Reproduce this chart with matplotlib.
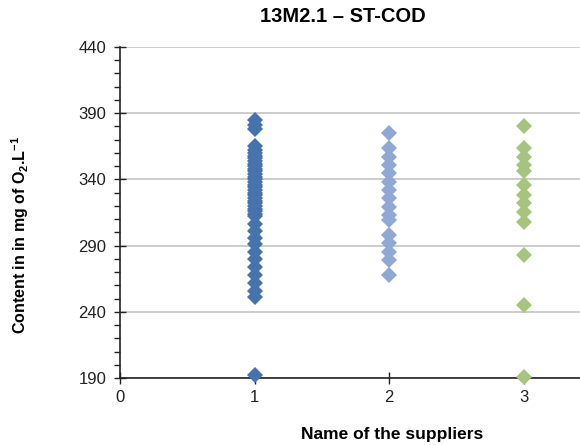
import matplotlib
matplotlib.use("Agg")
import matplotlib.pyplot as plt

plt.rcParams["font.family"] = ["Liberation Sans", "DejaVu Sans"]
plt.rcParams["mathtext.fontset"] = "custom"
plt.rcParams["mathtext.rm"] = "Liberation Sans"
plt.rcParams["mathtext.bf"] = "Liberation Sans:bold"

# COD content (mg O2/L) reported per supplier
supplier_ids = [1, 2, 3]
supplier_1 = [385, 381, 378,
              365, 362, 360, 358, 356, 354, 352, 350, 348, 346, 344, 342,
              340, 338, 336, 334, 332, 330, 328, 326, 324, 322, 320, 318,
              316, 314, 312,
              306, 301, 296, 291,
              285, 280, 274, 268, 262, 256, 251,
              192]
supplier_2 = [375, 364, 357, 351, 345, 338, 332, 326, 319, 313, 309,
              298, 292, 285, 279, 268]
supplier_3 = [380, 364, 357, 351, 346, 336, 328, 322, 315, 308, 283, 245, 191]

y_major = [190, 240, 290, 340, 390, 440]
y_minor = list(range(190, 441, 10))

colors = ["#4673AE", "#8FA8D6", "#A6C47E"]

fig = plt.figure(figsize=(5.8, 4.45), dpi=100)
ax = fig.add_axes([0.207, 0.1506, 0.793, 0.7438])

for sid, values, col in zip(supplier_ids, [supplier_1, supplier_2, supplier_3], colors):
    ax.plot([sid] * len(values), values, linestyle="none", marker="D",
            markersize=7.8, color=col, markeredgewidth=0, clip_on=False, zorder=3)

ax.set_xlim(0, 3.42)
ax.set_ylim(190, 440)
ax.set_yticks(y_major)
ax.set_yticks(y_minor, minor=True)
ax.set_xticks([0, 1, 2, 3])
ax.grid(axis="y", which="major", color="#c4c4c4", linewidth=1.2, zorder=0)
ax.set_axisbelow(True)

for side in ["top", "right"]:
    ax.spines[side].set_visible(False)
for side in ["left", "bottom"]:
    ax.spines[side].set_color("#222222")
    ax.spines[side].set_linewidth(1.2)

ax.tick_params(axis="both", which="major", direction="inout", length=8,
               width=1, color="#222222", labelsize=12, labelcolor="#222222")
ax.tick_params(axis="y", which="minor", direction="out", length=4,
               width=1, color="#222222")
ax.tick_params(axis="y", which="major", pad=6)
ax.tick_params(axis="x", which="major", pad=5)

fig.text(343 / 580, 1 - 17 / 445, "13M2.1 \u2013 ST-COD", ha="center", va="center",
         fontsize=14.5, fontweight="bold")
fig.text(392 / 580, 1 - 435 / 445, "Name of the suppliers", ha="center", va="center",
         fontsize=12.5, fontweight="bold")
fig.text(20 / 580, 1 - 235 / 445, r"Content in in mg of O$_\mathbf{2}$.L$^\mathbf{-1}$",
         ha="center", va="center", rotation=90, fontsize=11.5, fontweight="bold")

fig.savefig("out.png", dpi=100)
